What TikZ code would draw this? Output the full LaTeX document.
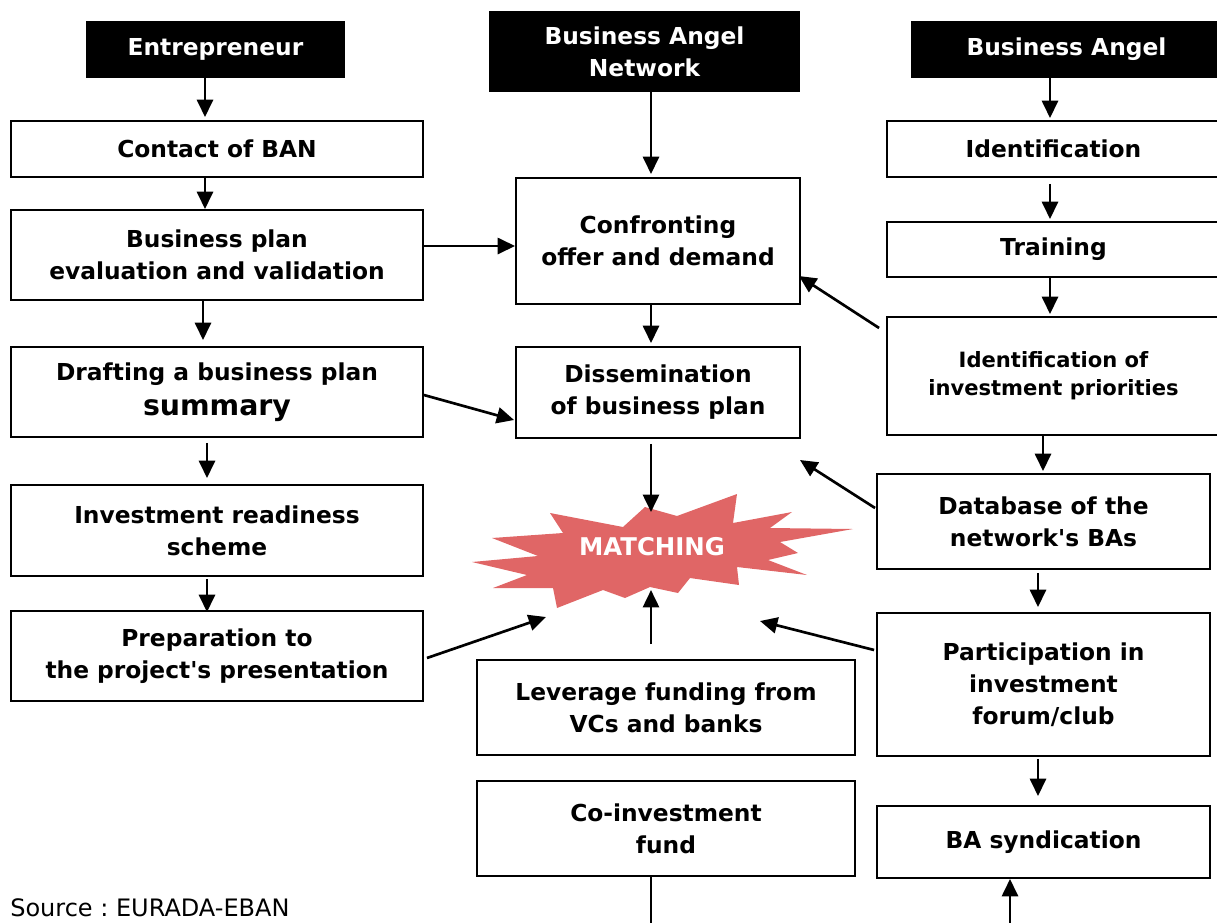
\documentclass[tikz,border=0pt]{standalone}
\usepackage{fontspec}
\setmainfont{DejaVu Sans}[Ligatures=TeXOff]
\usetikzlibrary{arrows.meta,calc}
\definecolor{starred}{RGB}{224,102,102}
\frenchspacing
\begin{document}
\begin{tikzpicture}[x=0.75pt,y=-0.75pt,
  box/.style 2 args={draw=black, line width=1.4pt, fill=white,
    minimum width=#1*0.75pt, minimum height=#2*0.75pt, align=center, inner sep=0pt,
    font=\bfseries\fontsize{17.5}{24}\selectfont},
  hdr/.style 2 args={fill=black, text=white,
    minimum width=#1*0.75pt, minimum height=#2*0.75pt, align=center, inner sep=0pt,
    font=\bfseries\fontsize{17.5}{24}\selectfont},
  arr/.style={line width=2pt, -{Triangle[length=13pt,width=12pt]}},
  plain/.style={line width=2pt},
]
\useasboundingbox (0,0) rectangle (1217,922);
% left column
\node[hdr={259}{57}] (ent) at (215.5,49.5) {Entrepreneur};
\node[box={412}{56}] (contact) at (217,149) {Contact of BAN};
\node[box={412}{90}] (bpe) at (217,255) {Business plan\\evaluation and validation};
\node[box={412}{90}] (draft) at (217,392) {Drafting a business plan\\[2pt]{\fontsize{21.3}{26}\selectfont summary}};
\node[box={412}{91}] (irs) at (217,530.5) {Investment readiness\\scheme};
\node[box={412}{90}] (prep) at (217,656) {Preparation to\\the project's presentation};
% middle column
\node[hdr={311}{81}] (ban) at (644.5,51.5) {Business Angel\\Network};
\node[box={284}{126}] (conf) at (658,241) {Confronting\\offer and demand};
\node[box={284}{91}] (diss) at (658,392.5) {Dissemination\\of business plan};
\node[box={378}{95}] (lev) at (666,707.5) {Leverage funding from\\VCs and banks};
\node[box={378}{95}] (coinv) at (666,828.5) {Co-investment\\fund};
% right column
\node[hdr={311}{57}] (ba) at (1066.5,49.5) {Business Angel};
\node[box={333}{56}] (ident) at (1053.5,149) {Identification};
\node[box={333}{55}] (train) at (1053.5,249.5) {Training};
\node[box={333}{118}, font=\bfseries\fontsize{15.8}{21}\selectfont] (prio) at (1053.5,376) {Identification of\\investment priorities};
\node[box={333}{95}] (db) at (1043.5,521.5) {Database of the\\network's BAs};
\node[box={333}{143}] (part) at (1043.5,684.5) {Participation in\\investment\\forum/club};
\node[box={333}{72}] (synd) at (1043.5,842) {BA syndication};
% matching star
\fill[starred] (623,527) -- (645,507) -- (677,516) -- (737,494) -- (733,523) -- (792,512)
  -- (770,528) -- (853,529) -- (780,542) -- (798,553) -- (768,560) -- (807,575)
  -- (737,567) -- (739,585) -- (690,578) -- (678,593) -- (650,587) -- (625,598)
  -- (603,590) -- (557,608) -- (553,588) -- (493,588) -- (527,575) -- (472,562)
  -- (538,556) -- (492,538) -- (563,533) -- (550,513) -- cycle;
\node[text=white, font=\bfseries\fontsize{18.3}{22}\selectfont] (match) at (652,547) {MATCHING};
\node[anchor=base west, font=\fontsize{18}{20}\selectfont, inner sep=0pt] (src) at (10,916) {Source : EURADA-EBAN};
% free ends
\coordinate (mTop) at (651,512);
\coordinate (mBot) at (651,590);
\coordinate (mLeft) at (546,617);
\coordinate (mRight) at (760,621);
\coordinate (dissBelow) at (800,460);
\coordinate (bottomMid) at (651,925);
\coordinate (bottomRight) at (1010,925);
% left arrows
\draw[arr] ($(ent.south)+(-10.5,0)$) -- ($(contact.north)+(-12,-3)$);
\draw[arr] ($(contact.south)+(-12,0)$) -- ($(bpe.north)+(-12,0)$);
\draw[arr] ($(bpe.south)+(-14,0)$) -- ($(draft.north)+(-14,-6)$);
\draw[arr] ($(draft.south)+(-10,5)$) -- ($(irs.north)+(-10,-6)$);
\draw[arr] ($(irs.south)+(-10,2)$) -- ($(prep.north)+(-10,2)$);
% middle arrows
\draw[arr] ($(ban.south)+(6.5,0)$) -- ($(conf.north)+(-7,-3)$);
\draw[arr] ($(conf.south)+(-7,0)$) -- ($(diss.north)+(-7,-3)$);
\draw[arr] ($(diss.south)+(-7,5)$) -- (mTop);
\draw[arr] ($(lev.north)+(-15,-15)$) -- (mBot);
\draw[plain] ($(coinv.south)+(-15,0)$) -- (bottomMid);
% right arrows
\draw[arr] ($(ba.south)+(-16.5,0)$) -- ($(ident.north)+(-3.5,-2)$);
\draw[arr] ($(ident.south)+(-3.5,6)$) -- ($(train.north)+(-3.5,-2)$);
\draw[arr] ($(train.south)+(-3.5,0)$) -- ($(prio.north)+(-3.5,-2)$);
\draw[arr] ($(prio.south)+(-10.5,0)$) -- ($(db.north)+(-0.5,-2)$);
\draw[arr] ($(db.south)+(-5.5,3)$) -- ($(part.north)+(-5.5,-5)$);
\draw[arr] ($(part.south)+(-5.5,2)$) -- ($(synd.north)+(-5.5,-9)$);
\draw[arr] (bottomRight) -- ($(synd.south)+(-33.5,0)$);
% diagonal arrows
\draw[arr] ($(bpe.east)+(0,-9)$) -- ($(conf.west)+(0,5)$);
\draw[arr] ($(draft.east)+(0,3)$) -- ($(diss.west)+(-1,27.5)$);
\draw[arr] ($(prio.west)+(-7,-48)$) -- ($(conf.east)+(-2,35)$);
\draw[arr] ($(db.west)+(-1,-13.5)$) -- (dissBelow);
\draw[arr] ($(prep.east)+(3,2)$) -- (mLeft);
\draw[arr] ($(part.west)+(-2,-34.5)$) -- (mRight);
\end{tikzpicture}
\end{document}
